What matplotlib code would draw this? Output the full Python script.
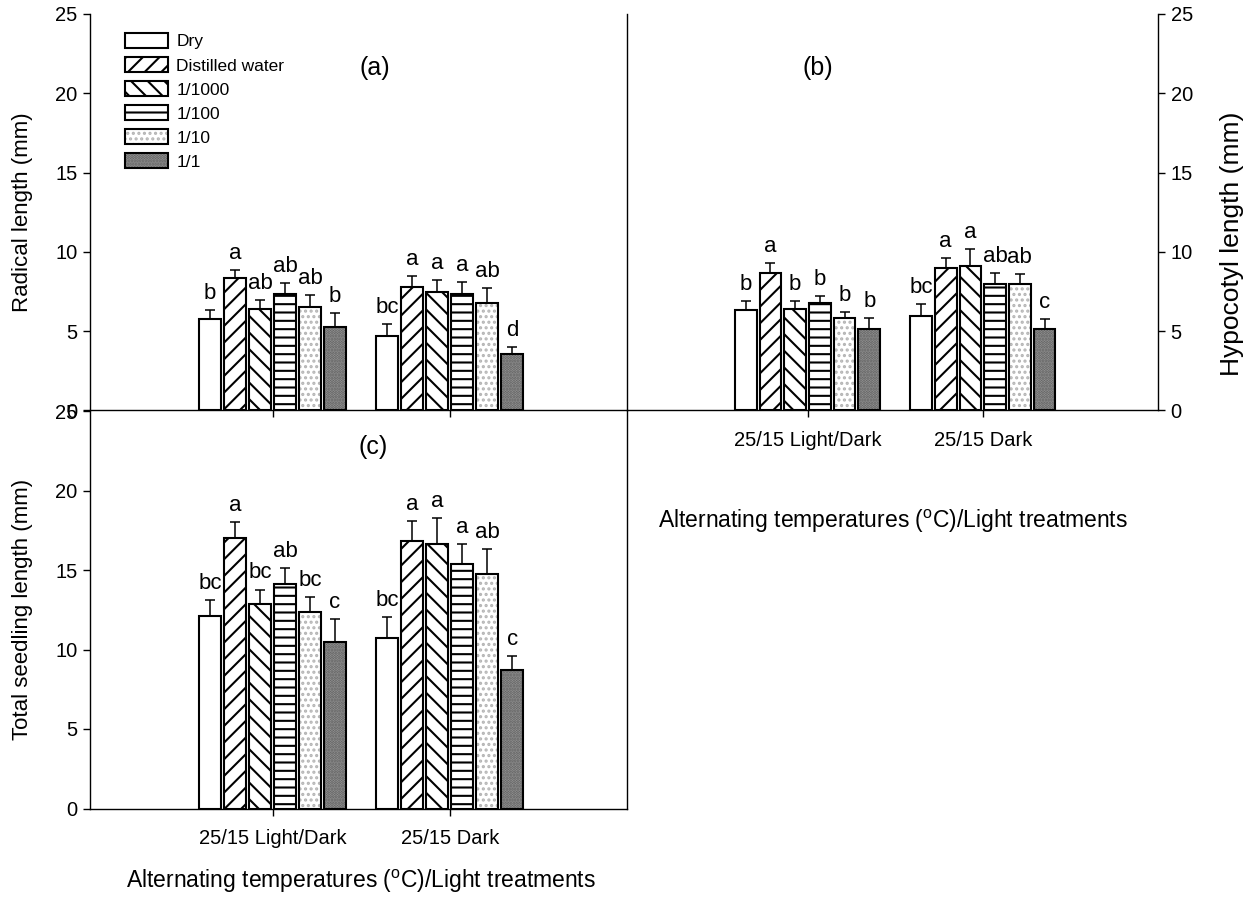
import numpy as np
import matplotlib
matplotlib.use("Agg")
import matplotlib.pyplot as plt
from matplotlib.patches import Patch

plt.rcParams['font.family'] = ['Liberation Sans', 'DejaVu Sans']
plt.rcParams['mathtext.fontset'] = 'custom'
plt.rcParams['mathtext.rm'] = 'Liberation Sans'
plt.rcParams['hatch.linewidth'] = 1.5

# ---- data -------------------------------------------------------------
groups = ['25/15 Light/Dark', '25/15 Dark']
treatments = ['Dry', 'Distilled water', '1/1000', '1/100', '1/10', '1/1']

radical_mean = [[5.75, 8.34, 6.40, 7.33, 6.50, 5.28],
                [4.70, 7.80, 7.49, 7.33, 6.80, 3.58]]
radical_se = [[0.58, 0.52, 0.57, 0.69, 0.78, 0.85],
              [0.73, 0.70, 0.74, 0.79, 0.94, 0.40]]
radical_letters = [['b', 'a', 'ab', 'ab', 'ab', 'b'],
                   ['bc', 'a', 'a', 'a', 'ab', 'd']]

hypocotyl_mean = [[6.34, 8.69, 6.42, 6.76, 5.85, 5.16],
                  [5.96, 9.00, 9.13, 8.00, 7.95, 5.14]]
hypocotyl_se = [[0.55, 0.63, 0.46, 0.48, 0.38, 0.69],
                [0.75, 0.60, 1.05, 0.65, 0.65, 0.60]]
hypocotyl_letters = [['b', 'a', 'b', 'b', 'b', 'b'],
                     ['bc', 'a', 'a', 'ab', 'ab', 'c']]

total_mean = [[12.11, 17.04, 12.85, 14.13, 12.37, 10.48],
              [10.71, 16.83, 16.64, 15.36, 14.75, 8.72]]
total_se = [[0.99, 0.99, 0.92, 1.00, 0.94, 1.41],
            [1.34, 1.24, 1.60, 1.26, 1.54, 0.86]]
total_letters = [['bc', 'a', 'bc', 'ab', 'bc', 'c'],
                 ['bc', 'a', 'a', 'a', 'ab', 'c']]

# ---- styles ------------------------------------------------------------
face = ['white', 'white', 'white', 'white', 'white', '#9c9c9c']
hatches = [None, '//', '\\\\', '--', '...', '......']
hatch_col = ['black', 'black', 'black', 'black', '#b4b4b4', '#5a5a5a']

W, H = 1251, 909
fig = plt.figure(figsize=(W / 100, H / 100), dpi=100)


def fax(x0, y0, x1, y1):
    a = fig.add_axes([x0 / W, 1 - y1 / H, (x1 - x0) / W, (y1 - y0) / H])
    a.patch.set_visible(False)
    return a


ax_a = fax(90, 14, 627, 410.5)
ax_b = fax(627, 14, 1158, 410.5)
ax_c = fax(90, 411, 627, 808.5)

pitch = 0.141
bw = 0.124
xc = np.arange(len(groups))


def draw(ax, mean, se, letters):
    mean = np.asarray(mean)
    se = np.asarray(se)
    for i in range(len(treatments)):
        x = xc + (i - 2.5) * pitch
        v = mean[:, i]
        e = se[:, i]
        ax.bar(x, v, bw, color=face[i], edgecolor=hatch_col[i],
               hatch=hatches[i], linewidth=0, zorder=2)
        ax.bar(x, v, bw, fill=False, edgecolor='black', linewidth=1.5,
               zorder=3)
        ax.errorbar(x, v, yerr=[np.zeros_like(e), e], fmt='none',
                    ecolor='black', elinewidth=1.1, capsize=3.3,
                    capthick=1.1, zorder=4)
        for g in range(len(groups)):
            ax.annotate(letters[g][i], (x[g], v[g] + e[g]), xytext=(0, 8),
                        textcoords='offset points', ha='center',
                        va='baseline', fontsize=16)
    ax.set_xlim(-1.03, 2.0)
    ax.set_ylim(0, 25)
    ax.set_xticks(xc)
    ax.set_yticks(np.arange(0, 26, 5))
    ax.tick_params(axis='y', direction='out', length=5, width=1,
                   labelsize=14.5, pad=4)
    ax.tick_params(axis='x', direction='out', length=5, width=1,
                   labelsize=14.5, pad=9.5)
    for s in ax.spines.values():
        s.set_linewidth(1)
    ax.spines['top'].set_visible(False)


draw(ax_a, radical_mean, radical_se, radical_letters)
draw(ax_b, hypocotyl_mean, hypocotyl_se, hypocotyl_letters)
draw(ax_c, total_mean, total_se, total_letters)

# panel (a)
ax_a.tick_params(axis='x', labelbottom=False)
ax_a.set_ylabel('Radical length (mm)', fontsize=16)
ax_a.yaxis.label.set_va('center')
ax_a.yaxis.set_label_coords(-0.125, 0.5)
ax_a.text(0.531, 0.864, '(a)', transform=ax_a.transAxes, ha='center',
          va='center', fontsize=18)

# panel (b)
ax_b.spines['left'].set_visible(False)
ax_b.yaxis.tick_right()
ax_b.yaxis.set_label_position('right')
ax_b.set_ylabel('Hypocotyl length (mm)', fontsize=19, rotation=90)
ax_b.yaxis.label.set_va('center')
ax_b.yaxis.set_label_coords(1.139, 0.42)
ax_b.set_xticklabels(groups)
ax_b.text(0.36, 0.864, '(b)', transform=ax_b.transAxes, ha='center',
          va='center', fontsize=18)
xlab = r'Alternating temperatures ($^{\mathrm{o}}$C)/Light treatments'
ax_b.set_xlabel(xlab, fontsize=16.5)
ax_b.xaxis.label.set_va('center')
ax_b.xaxis.set_label_coords(0.5, (410.5 - 521) / 396.5)

# panel (c)
ax_c.set_xticklabels(groups)
ax_c.set_ylabel('Total seedling length (mm)', fontsize=16)
ax_c.yaxis.label.set_va('center')
ax_c.yaxis.set_label_coords(-0.125, 0.5)
ax_c.text(0.527, 0.909, '(c)', transform=ax_c.transAxes, ha='center',
          va='center', fontsize=18)
ax_c.set_xlabel(xlab, fontsize=16.5)
ax_c.xaxis.label.set_va('center')
ax_c.xaxis.set_label_coords(0.505, (808.5 - 881) / 397.5)

# legend with hatched swatches
handles = []
for i in range(len(treatments)):
    fill = Patch(facecolor=face[i], edgecolor=hatch_col[i],
                 hatch=hatches[i], linewidth=0)
    edge = Patch(fill=False, edgecolor='black', linewidth=1.5)
    handles.append((fill, edge))
ax_a.legend(handles, treatments, loc='upper left',
            bbox_to_anchor=(125 / W, 1 - 33 / H), bbox_transform=fig.transFigure,
            frameon=False, fontsize=12.5, handlelength=2.46, handleheight=0.95,
            handletextpad=0.5, labelspacing=0.44, borderpad=0, borderaxespad=0)

fig.savefig('out.png', dpi=100)
